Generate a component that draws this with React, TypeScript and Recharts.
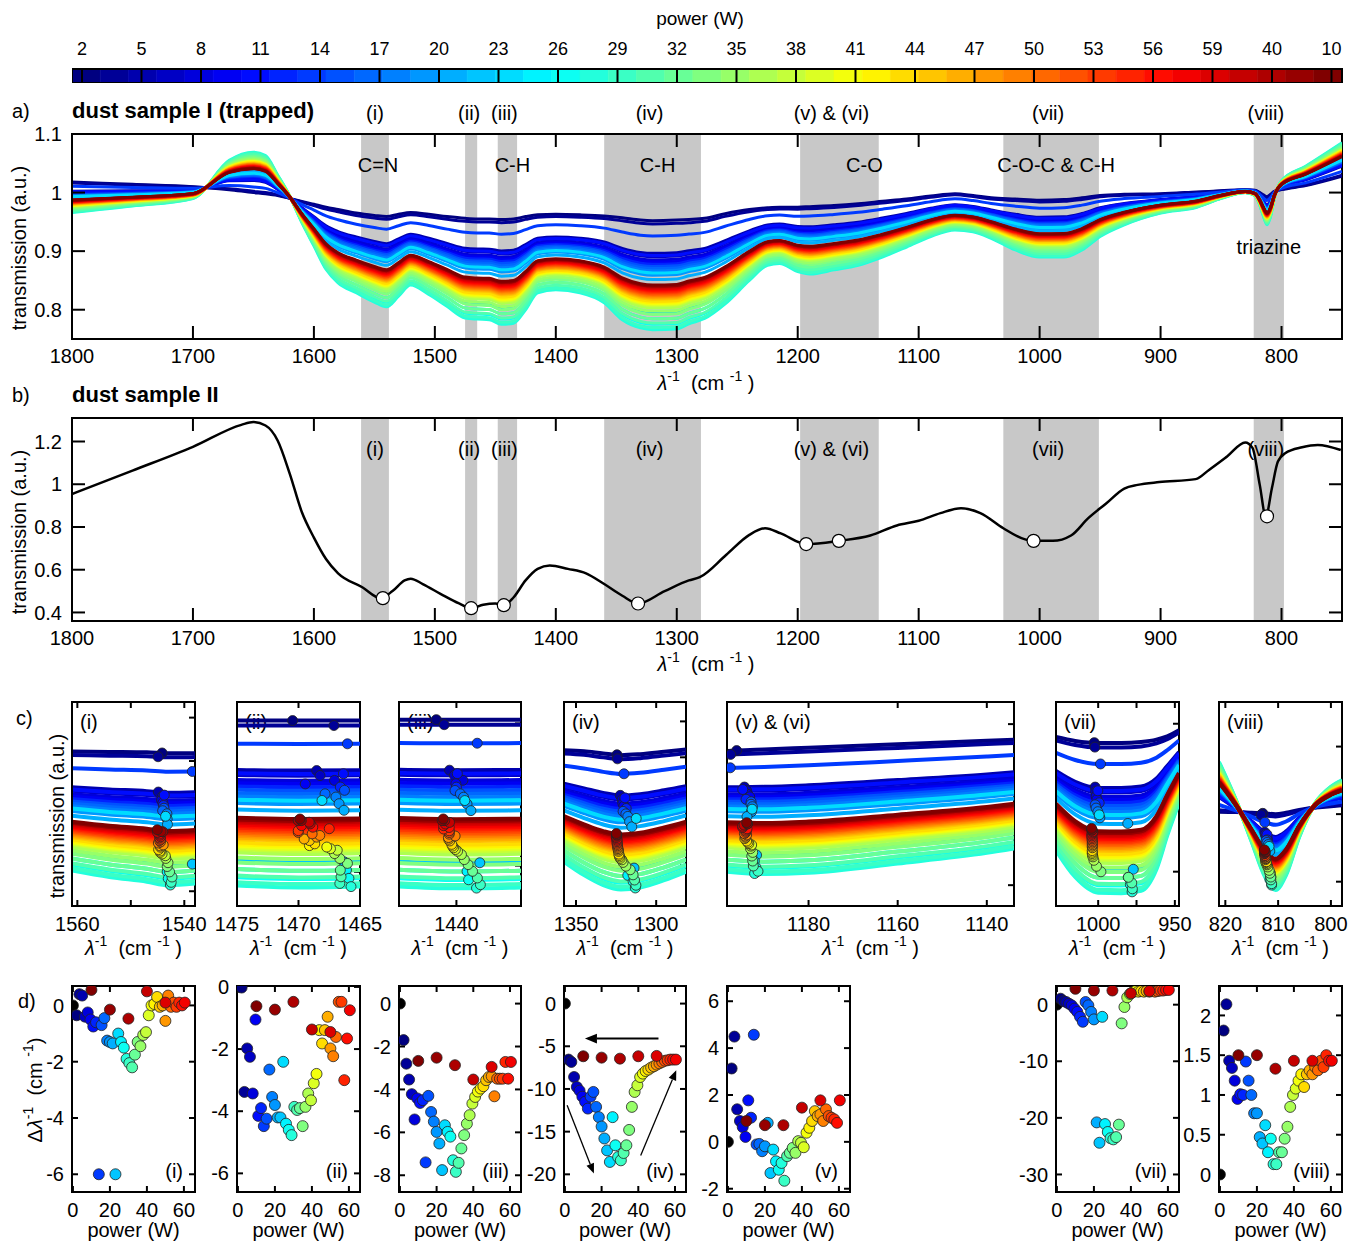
import React from 'react';
import { ComposedChart, Line, Scatter, XAxis, YAxis, ReferenceArea, ReferenceLine } from 'recharts';

const FONT = '"Liberation Sans", Arial, Helvetica, sans-serif';
const AX = { stroke: '#000', strokeWidth: 2 };

// ---------------- measurement sequence ----------------
const rampUpPower = [2, 3.5, 5, 6.5, 8, 9.5, 11, 12.5, 14, 15.5, 17, 18.5, 20, 21.5, 23, 24.5, 26, 27.5, 29, 30.5, 32, 33.5, 35, 36.5, 38, 39.5, 41, 42.5, 44, 45.5, 47, 48.5, 50, 51.5, 53, 54.5, 56, 57.5, 59, 60.5];
const rampDownPower = [50, 40, 30, 20, 10];
const measurementPower = [...rampUpPower, ...rampDownPower];
const N = measurementPower.length;

const colorbarLabels = ['2', '5', '8', '11', '14', '17', '20', '23', '26', '29', '32', '35', '38', '41', '44', '47', '50', '53', '56', '59', '40', '10'];

// depth of each spectrum between the shallowest (0) and deepest (1) trace
const spectrumDepth = [0.0, 0.03, 0.3, 0.33, 0.36, 0.38, 0.32, 0.4, 0.14, 0.42, 0.44, 0.46, 0.5, 0.54, 0.85, 0.48, 0.9, 0.95, 1.0, 0.98, 0.94, 0.9, 0.86, 0.83, 0.8, 0.78, 0.77, 0.76, 0.75, 0.74, 0.72, 0.71, 0.7, 0.69, 0.68, 0.67, 0.66, 0.65, 0.64, 0.63, 0.62, 0.61, 0.6, 0.6, 0.59];

// ---------------- panel a ----------------
const aWavenumber = [1800, 1750, 1700, 1670, 1650, 1640, 1630, 1620, 1610, 1600, 1590, 1580, 1565, 1550, 1540, 1530, 1520, 1505, 1490, 1475, 1465, 1455, 1445, 1435, 1425, 1415, 1400, 1380, 1360, 1345, 1330, 1320, 1300, 1290, 1277, 1260, 1240, 1225, 1215, 1200, 1190, 1170, 1150, 1130, 1110, 1090, 1070, 1055, 1040, 1020, 1000, 980, 965, 950, 930, 900, 870, 850, 830, 822, 818, 815, 812, 809, 806, 800, 780, 750];
const aShallowest = [1.018, 1.014, 1.01, 1.005, 1.0, 0.998, 0.995, 0.99, 0.985, 0.98, 0.975, 0.971, 0.965, 0.961, 0.959, 0.963, 0.966, 0.963, 0.959, 0.956, 0.955, 0.955, 0.954, 0.955, 0.959, 0.962, 0.963, 0.962, 0.96, 0.957, 0.953, 0.952, 0.953, 0.954, 0.956, 0.964, 0.971, 0.974, 0.975, 0.975, 0.976, 0.978, 0.981, 0.985, 0.989, 0.994, 0.998, 0.995, 0.991, 0.989, 0.987, 0.988, 0.991, 0.995, 0.997, 0.998, 1.001, 1.003, 1.005, 1.004, 1.0, 0.996, 0.993, 0.997, 1.002, 1.005, 1.012, 1.028];
const aDeepest = [0.966, 0.977, 0.99, 1.055, 1.069, 1.063, 1.03, 0.994, 0.949, 0.909, 0.869, 0.846, 0.829, 0.813, 0.805, 0.823, 0.842, 0.826, 0.806, 0.786, 0.784, 0.783, 0.775, 0.777, 0.8, 0.829, 0.834, 0.829, 0.812, 0.783, 0.769, 0.766, 0.767, 0.776, 0.785, 0.81, 0.85, 0.876, 0.879, 0.865, 0.861, 0.868, 0.876, 0.89, 0.907, 0.925, 0.936, 0.933, 0.922, 0.902, 0.89, 0.89, 0.902, 0.925, 0.945, 0.965, 0.975, 0.99, 1.0, 0.995, 0.979, 0.96, 0.945, 0.96, 0.99, 1.02, 1.045, 1.085];

const bandNames = ['(i)', '(ii)', '(iii)', '(iv)', '(v) & (vi)', '(vii)', '(viii)'];
const bandFrom = [1561, 1475, 1448, 1360, 1198, 1030, 823];
const bandTo = [1538, 1465, 1432, 1280, 1133, 951, 798];
const bandAssignment = ['C=N', '', 'C-H', 'C-H', 'C-O', 'C-O-C & C-H', 'triazine'];

// ---------------- panel b ----------------
const bWavenumber = [1800, 1750, 1700, 1660, 1650, 1640, 1630, 1620, 1610, 1600, 1590, 1580, 1560, 1545, 1535, 1525, 1520, 1510, 1495, 1480, 1470, 1460, 1450, 1443, 1435, 1425, 1415, 1405, 1390, 1375, 1360, 1345, 1332, 1310, 1290, 1281, 1259, 1240, 1227, 1214, 1193, 1166, 1140, 1118, 1100, 1082, 1065, 1049, 1030, 1015, 1005, 989, 974, 960, 945, 930, 919, 901, 871, 860, 845, 830, 824, 818, 813, 808, 803, 797, 783, 770, 751];
const bTransmission = [0.954, 1.064, 1.175, 1.278, 1.291, 1.275, 1.205, 1.05, 0.87, 0.75, 0.65, 0.583, 0.518, 0.467, 0.5, 0.55, 0.558, 0.533, 0.486, 0.442, 0.42, 0.436, 0.442, 0.434, 0.47, 0.55, 0.604, 0.62, 0.604, 0.583, 0.533, 0.478, 0.442, 0.5, 0.55, 0.565, 0.67, 0.763, 0.794, 0.77, 0.72, 0.735, 0.76, 0.807, 0.829, 0.865, 0.888, 0.865, 0.794, 0.748, 0.735, 0.735, 0.76, 0.84, 0.91, 0.98, 0.997, 1.01, 1.024, 1.067, 1.13, 1.195, 1.17, 0.997, 0.85, 0.98, 1.106, 1.145, 1.173, 1.184, 1.16];
const bMarkerWavenumber = [1543, 1470, 1443, 1332, 1193, 1166, 1005, 812];
const bMarkerTransmission = [0.467, 0.42, 0.434, 0.442, 0.72, 0.735, 0.735, 0.85];

// ---------------- panel d : peak shifts (cm-1) per measurement ----------------
const shiftI = [-0.35, 0.4, 0.35, -0.4, -0.25, -0.5, -0.75, -0.6, -6.0, -0.7, -0.45, -1.25, -1.3, -1.35, -6.0, -1.0, -1.3, -1.5, -1.9, -2.05, -2.2, -1.75, -1.3, -1.45, -1.05, -0.95, -0.35, 0.0, 0.05, 0.3, -0.05, 0.0, -0.55, 0.35, -0.05, 0.1, -0.05, 0.1, 0.0, 0.1, 0.1, 0.5, -0.47, -0.15, 0.55];
const shiftII = [-0.02, -3.38, -1.98, -2.25, -3.43, -1.05, -4.15, -3.9, -4.48, -4.24, -2.66, -3.54, -3.8, -4.2, -4.2, -2.41, -4.4, -4.6, -4.77, -3.86, -3.96, -3.9, -4.48, -3.86, -3.43, -3.65, -3.1, -2.8, -1.39, -1.82, -1.39, -0.96, -1.98, -2.23, -1.61, -0.48, -0.48, -3.0, -1.66, -0.75, -1.45, -1.37, -0.48, -0.73, -0.62];
const shiftIII = [-1.7, -2.8, -3.54, -4.22, -5.4, -4.42, -4.63, -4.5, -7.4, -4.3, -5.05, -5.5, -5.98, -6.52, -7.76, -5.67, -5.98, -6.2, -7.3, -7.84, -7.42, -6.75, -6.13, -5.6, -5.2, -4.66, -4.35, -4.1, -3.96, -3.85, -3.57, -3.42, -3.39, -4.32, -3.5, -3.5, -3.5, -2.72, -3.5, -2.72, -2.95, -3.54, -2.87, -2.52, -2.67];
const shiftIV = [-6.56, -6.84, -8.6, -9.77, -10.2, -10.9, -11.5, -12.3, -10.9, -10.35, -12.1, -13.3, -14.4, -15.8, -17.2, -18.55, -13.3, -16.6, -17.97, -18.36, -17.5, -16.6, -14.8, -12.1, -10.35, -9.57, -8.6, -8.2, -7.9, -7.73, -7.5, -7.34, -7.15, -7.0, -6.84, -6.7, -6.64, -6.56, -6.56, -6.56, -6.13, -6.17, -6.45, -6.33, -6.17];
const shiftV = [3.13, 4.49, 1.39, 0.89, 0.63, 0.21, 1.77, 1.03, 4.57, -0.11, -0.09, -0.4, -0.19, 0.81, -1.33, -0.33, -0.83, -1.19, -0.9, -1.66, -0.61, -0.47, -0.26, -0.47, 0.03, -0.04, -0.23, 0.39, 0.6, 0.89, 1.31, 1.1, 1.17, 0.89, 1.39, 1.1, 1.03, 0.96, 0.81, 1.77, 1.77, 1.46, 0.71, 0.71, 0.89];
const shiftVII = [1.05, 0.64, 0.47, 0.17, -0.12, -0.7, -1.28, -2.15, -3.02, 0.47, -0.12, -1.28, -2.6, -20.8, -24.4, -2.15, -21.1, -22.5, -23.6, -23.8, -23.4, -21.2, -3.3, -0.41, 1.3, 1.9, 2.2, 2.4, 2.3, 2.4, 2.3, 2.4, 2.3, 2.4, 2.3, 2.4, 2.5, 2.5, 2.6, 2.6, 2.4, 2.0, 2.5, 2.5, 2.8];
const shiftVIII = [1.81, 2.14, 1.43, 1.34, 1.18, 0.95, 1.01, 1.0, 1.42, 1.18, 1.0, 0.77, 0.77, 0.47, 0.39, 0.62, 0.28, 0.45, 0.13, 0.13, 0.28, 0.28, 0.45, 0.6, 0.85, 1.0, 1.08, 1.18, 1.26, 1.1, 1.26, 1.31, 1.26, 1.35, 1.31, 1.43, 1.35, 1.5, 1.43, 1.43, 1.43, 1.43, 1.33, 1.5, 1.5];

const dPowerTicks = [0, 20, 40, 60];
const arrowStartPower = [51, 1.2, 41.3];
const arrowStartShift = [-4.1, -11.9, -17.8];
const arrowEndPower = [10.9, 15.8, 60.7];
const arrowEndShift = [-4.1, -19.9, -7.8];

// ---------------- panel c : zoomed spectra ----------------
const cIWavenumber = [1561, 1554, 1547, 1543, 1538];
const cIShallow = [0.961, 0.9605, 0.96, 0.959, 0.959];
const cIDeep = [0.824, 0.8165, 0.811, 0.807, 0.809];
const cIIWavenumber = [1475, 1470, 1465];
const cIIShallow = [0.955, 0.955, 0.955];
const cIIDeep = [0.786, 0.784, 0.785];
const cIIIWavenumber = [1448, 1440, 1431];
const cIIIShallow = [0.954, 0.954, 0.954];
const cIIIDeep = [0.778, 0.776, 0.777];
const cIVWavenumber = [1357.5, 1345, 1333, 1322, 1310, 1295, 1281.4];
const cIVShallow = [0.96, 0.9586, 0.9554, 0.953, 0.9544, 0.9577, 0.9609];
const cIVDeep = [0.8046, 0.786, 0.7721, 0.766, 0.7688, 0.779, 0.7906];
const cVWavenumber = [1198.3, 1190, 1180, 1160, 1140, 1133.9];
const cVShallow = [0.975, 0.9764, 0.978, 0.9812, 0.9845, 0.9855];
const cVDeep = [0.8625, 0.8603, 0.8615, 0.8702, 0.8801, 0.8842];
const cVIIWavenumber = [1027.5, 1015, 1000, 985, 972, 962, 955, 947.3];
const cVIIShallow = [0.9911, 0.9884, 0.987, 0.987, 0.9877, 0.9893, 0.9915, 0.9956];
const cVIIDeep = [0.9145, 0.8964, 0.8858, 0.8855, 0.8871, 0.9017, 0.9243, 0.9466];
const cVIIIWavenumber = [821.2, 818, 815, 812.5, 810.5, 808.5, 806, 803, 800, 797.9];
const cVIIIShallow = [0.9914, 0.9912, 0.9908, 0.9904, 0.99, 0.9908, 0.9924, 0.9939, 0.9947, 0.9953];
const cVIIIDeep = [1.0209, 0.9983, 0.9736, 0.953, 0.9451, 0.9539, 0.9766, 0.9963, 1.0062, 1.0101];
const cPeakCentre = [1544.5, 1470.5, 1444.5, 1331, 1193, 1001.5, 811.1];

// ---------------- helpers ----------------
function jet(t: number): string {
  const c = (v: number) => Math.round(255 * Math.max(0, Math.min(1, v)));
  return `rgb(${c(1.5 - Math.abs(4 * t - 3))},${c(1.5 - Math.abs(4 * t - 2))},${c(1.5 - Math.abs(4 * t - 1))})`;
}
const seqColor = measurementPower.map((_, i) => jet(i / (N - 1)));

function spectraRows(xs: number[], top: number[], deep: number[]) {
  return xs.map((x, k) => {
    const row: any = { x };
    spectrumDepth.forEach((s, i) => { row['s' + i] = top[k] + s * (deep[k] - top[k]); });
    return row;
  });
}
function interp(xs: number[], vals: number[], x: number) {
  for (let k = 0; k < xs.length - 1; k++) {
    const a = xs[k], b = xs[k + 1];
    if ((x - a) * (x - b) <= 0) return vals[k] + ((x - a) / (b - a)) * (vals[k + 1] - vals[k]);
  }
  return vals[vals.length - 1];
}

function Frame({ box, pad, data, children }: any) {
  const [x0, y0, x1, y1] = box;
  const [pl, pt, pr, pb] = pad;
  const width = x1 - x0 + pl + pr;
  const height = y1 - y0 + pt + pb;
  return (
    <div style={{ position: 'absolute', left: x0 - pl, top: y0 - pt, width, height }}>
      <ComposedChart width={width} height={height} data={data} margin={{ top: pt, right: pr, bottom: 0, left: 0 }}>
        {children}
      </ComposedChart>
    </div>
  );
}

// mirrored tick marks drawn on the top and right edges of the frame
const topTick = (len: number) => (p: any) => {
  if (p.x1 == null) return null;
  const y = Math.min(p.y1, p.y2);
  return <line x1={p.x1} x2={p.x1} y1={y} y2={y + len} stroke="#000" strokeWidth={2} />;
};
const rightTick = (len: number) => (p: any) => {
  if (p.x1 == null) return null;
  const x = Math.max(p.x1, p.x2);
  return <line x1={x - len} x2={x} y1={p.y1} y2={p.y1} stroke="#000" strokeWidth={2} />;
};

function frameAxes(o: any) {
  const tickStyle = { fill: '#000', fontSize: o.fontSize, fontFamily: FONT };
  const items: any[] = [
    <XAxis key="xb" xAxisId="b" type="number" dataKey="x" domain={o.xDomain} ticks={o.xTicks} reversed={o.reversed} allowDataOverflow interval={0} height={o.pb} tickSize={-o.tickLen} tickMargin={o.xMargin} tick={tickStyle} tickFormatter={o.xFmt} axisLine={AX} tickLine={AX} />,
    <YAxis key="yl" yAxisId="l" type="number" dataKey="y" domain={o.yDomain} ticks={o.yTicks} allowDataOverflow interval={0} width={o.pl} tickSize={-o.tickLen} tickMargin={o.yMargin} tick={o.showYLabels ? tickStyle : false} axisLine={AX} tickLine={AX} />,
    <ReferenceArea key="border" xAxisId="b" yAxisId="l" x1={o.xDomain[0]} x2={o.xDomain[1]} y1={o.yDomain[0]} y2={o.yDomain[1]} fill="none" stroke="#000" strokeWidth={2} ifOverflow="visible" />,
  ];
  (o.xTicks || []).forEach((v: number) => items.push(
    <ReferenceLine key={'tt' + v} xAxisId="b" yAxisId="l" x={v} ifOverflow="visible" shape={topTick(o.tickLen)} />
  ));
  (o.yTicks || []).forEach((v: number) => items.push(
    <ReferenceLine key={'rt' + v} xAxisId="b" yAxisId="l" y={v} ifOverflow="visible" shape={rightTick(o.tickLen)} />
  ));
  return items;
}

function spectraLines(width: number) {
  return spectrumDepth.map((_, i) => (
    <Line key={'s' + i} xAxisId="b" yAxisId="l" type="monotone" dataKey={'s' + i} stroke={seqColor[i]} strokeWidth={width} dot={false} activeDot={false} isAnimationActive={false} />
  ));
}

const dotShape = (r: number) => (p: any) => (
  <circle cx={p.cx} cy={p.cy} r={r} fill={p.payload.c} stroke="#222" strokeWidth={0.8} />
);

const cornerLabel = (text: string, corner: string) => (props: any) => {
  const vb = props.viewBox;
  if (!vb) return null;
  const tl = corner === 'tl';
  return (
    <text x={tl ? vb.x + 8 : vb.x + vb.width - 12} y={tl ? vb.y + 27 : vb.y + vb.height - 14} textAnchor={tl ? 'start' : 'end'} fontSize={20} fontFamily={FONT} fill="#000" style={{ whiteSpace: 'pre' }}>{text}</text>
  );
};

const arrowShape = (w: number, head: number) => (p: any) => {
  const { x1, y1, x2, y2 } = p;
  if (x1 == null) return null;
  const ang = Math.atan2(y2 - y1, x2 - x1);
  const bx = x2 - head * Math.cos(ang), by = y2 - head * Math.sin(ang);
  const px = -Math.sin(ang) * head * 0.4, py = Math.cos(ang) * head * 0.4;
  return (
    <g>
      <line x1={x1} y1={y1} x2={bx} y2={by} stroke="#000" strokeWidth={w} />
      <polygon points={`${x2},${y2} ${bx + px},${by + py} ${bx - px},${by - py}`} fill="#000" />
    </g>
  );
};

// ---------------- colorbar ----------------
function Colorbar() {
  const dummy = [{ x: 0, y: 0 }, { x: N, y: 0 }];
  // label k sits 10 px + 59.5 px * k from the left end of the 1270 px bar
  const labelPos = colorbarLabels.map((_, k) => ((10 + 59.5 * k) * N) / 1270);
  const halfTick = (1 * N) / 1270;
  return (
    <Frame box={[72, 68, 1342, 83]} pad={[0, 67, 19, 0]} data={dummy}>
      <XAxis xAxisId="b" type="number" dataKey="x" orientation="top" domain={[0, N]} height={1} allowDataOverflow ticks={labelPos} interval={0} tickFormatter={(v: number) => colorbarLabels[labelPos.indexOf(v)]} tickSize={0} tickMargin={14} axisLine={false} tickLine={false} tick={{ fill: '#000', fontSize: 18, fontFamily: FONT }} />
      <YAxis yAxisId="l" type="number" dataKey="y" domain={[0, 1]} hide width={0} allowDataOverflow />
      <Line xAxisId="b" yAxisId="l" dataKey="y" stroke="none" dot={false} activeDot={false} isAnimationActive={false} />
      {measurementPower.map((_, i) => (
        <ReferenceArea key={'c' + i} xAxisId="b" yAxisId="l" x1={i} x2={i + 1} y1={0} y2={1} fill={seqColor[i]} fillOpacity={1} stroke={seqColor[i]} strokeWidth={0.6} ifOverflow="visible" />
      ))}
      {labelPos.map((u, k) => (
        <ReferenceArea key={'t' + k} xAxisId="b" yAxisId="l" x1={u - halfTick} x2={u + halfTick} y1={0} y2={1} fill="#000" fillOpacity={1} stroke="none" ifOverflow="visible" />
      ))}
      <ReferenceArea xAxisId="b" yAxisId="l" x1={0} x2={N} y1={0} y2={1} fill="none" stroke="#000" strokeWidth={2} ifOverflow="visible" />
    </Frame>
  );
}

// ---------------- panel a ----------------
const assignmentDx = [3, 0, 5, 5, 25, 5, 0];
const assignmentDy = [31, 31, 31, 31, 31, 31, 113];
const bandNameDx = [0, -2, -3, -3, -8, -3, -3];

function PanelA() {
  const rows = spectraRows(aWavenumber, aShallowest, aDeepest);
  return (
    <Frame box={[72, 134, 1342, 339]} pad={[72, 45, 19, 30]} data={rows}>
      {bandFrom.map((f, k) => (
        <ReferenceArea key={'band' + k} xAxisId="b" yAxisId="l" x1={f} x2={bandTo[k]} fill="#c8c8c8" fillOpacity={1} stroke="none" ifOverflow="visible"
          label={(props: any) => {
            const vb = props.viewBox;
            if (!vb) return null;
            const cx = vb.x + vb.width / 2;
            return (
              <g>
                <text x={cx + bandNameDx[k]} y={vb.y - 21} textAnchor="middle" dominantBaseline="central" fontSize={20} fontFamily={FONT} fill="#000" style={{ whiteSpace: 'pre' }}>{bandNames[k]}</text>
                <text x={cx + assignmentDx[k]} y={vb.y + assignmentDy[k]} textAnchor="middle" dominantBaseline="central" fontSize={20} fontFamily={FONT} fill="#000" style={{ whiteSpace: 'pre' }}>{bandAssignment[k]}</text>
              </g>
            );
          }} />
      ))}
      {frameAxes({ pl: 72, pb: 30, xDomain: [750, 1800], yDomain: [0.75, 1.1], xTicks: [1800, 1700, 1600, 1500, 1400, 1300, 1200, 1100, 1000, 900, 800], yTicks: [0.8, 0.9, 1, 1.1], reversed: true, tickLen: 13, xMargin: 23, yMargin: 23, fontSize: 20, showYLabels: true })}
      {spectraLines(3)}
    </Frame>
  );
}

// ---------------- panel b ----------------
function PanelB() {
  const rows = bWavenumber.map((x, k) => ({ x, y: bTransmission[k] }));
  const markers = bMarkerWavenumber.map((x, k) => ({ x, y: bMarkerTransmission[k], c: '#fff' }));
  return (
    <Frame box={[72, 418, 1342, 621]} pad={[72, 10, 19, 30]} data={rows}>
      {bandFrom.map((f, k) => (
        <ReferenceArea key={'band' + k} xAxisId="b" yAxisId="l" x1={f} x2={bandTo[k]} fill="#c8c8c8" fillOpacity={1} stroke="none" ifOverflow="visible"
          label={(props: any) => {
            const vb = props.viewBox;
            if (!vb) return null;
            return (
              <text x={vb.x + vb.width / 2 + bandNameDx[k]} y={vb.y + 31} textAnchor="middle" dominantBaseline="central" fontSize={20} fontFamily={FONT} fill="#000" style={{ whiteSpace: 'pre' }}>{bandNames[k]}</text>
            );
          }} />
      ))}
      {frameAxes({ pl: 72, pb: 30, xDomain: [750, 1800], yDomain: [0.36, 1.31], xTicks: [1800, 1700, 1600, 1500, 1400, 1300, 1200, 1100, 1000, 900, 800], yTicks: [0.4, 0.6, 0.8, 1, 1.2], reversed: true, tickLen: 13, xMargin: 23, yMargin: 23, fontSize: 20, showYLabels: true })}
      <Line xAxisId="b" yAxisId="l" type="monotone" dataKey="y" stroke="#000" strokeWidth={2.5} dot={false} activeDot={false} isAnimationActive={false} />
      <Scatter xAxisId="b" yAxisId="l" data={markers} dataKey="y" shape={(p: any) => <circle cx={p.cx} cy={p.cy} r={6.5} fill="#fff" stroke="#000" strokeWidth={1.2} />} isAnimationActive={false} />
    </Frame>
  );
}

// ---------------- panel c ----------------
const cPanels = [
  { name: '(i)', box: [72, 702, 195, 906], xs: cIWavenumber, top: cIShallow, deep: cIDeep, yDomain: [0.783, 1.018], yTicks: [0.8, 0.85, 0.9, 0.95, 1.0], ticks: [1560, 1550, 1540], shown: [1560, 1540], ref: cPeakCentre[0], shifts: shiftI },
  { name: '(ii)', box: [237, 702, 360, 906], xs: cIIWavenumber, top: cIIShallow, deep: cIIDeep, yDomain: [0.765, 0.974], yTicks: [0.8, 0.85, 0.9, 0.95], ticks: [1475, 1470, 1465], shown: [1475, 1470, 1465], ref: cPeakCentre[1], shifts: shiftII },
  { name: '(iii)', box: [399, 702, 521, 906], xs: cIIIWavenumber, top: cIIIShallow, deep: cIIIDeep, yDomain: [0.7574, 0.9726], yTicks: [0.8, 0.85, 0.9, 0.95], ticks: [1440], shown: [1440], ref: cPeakCentre[2], shifts: shiftIII },
  { name: '(iv)', box: [564, 702, 686, 906], xs: cIVWavenumber, top: cIVShallow, deep: cIVDeep, yDomain: [0.743, 1.027], yTicks: [0.8, 0.85, 0.9, 0.95, 1.0], ticks: [1350, 1325, 1300], shown: [1350, 1300], ref: cPeakCentre[3], shifts: shiftIV },
  { name: '(v) & (vi)', box: [727, 702, 1014, 906], xs: cVWavenumber, top: cVShallow, deep: cVDeep, yDomain: [0.8306, 1.0206], yTicks: [0.85, 0.9, 0.95, 1.0], ticks: [1180, 1160, 1140], shown: [1180, 1160, 1140], ref: cPeakCentre[4], shifts: shiftV },
  { name: '(vii)', box: [1056, 702, 1179, 906], xs: cVIIWavenumber, top: cVIIShallow, deep: cVIIDeep, yDomain: [0.8768, 1.0147], yTicks: [0.9, 0.95, 1.0], ticks: [1000, 975, 950], shown: [1000, 950], ref: cPeakCentre[5], shifts: shiftVII },
  { name: '(viii)', box: [1219, 702, 1342, 906], xs: cVIIIWavenumber, top: cVIIIShallow, deep: cVIIIDeep, yDomain: [0.9356, 1.0564], yTicks: [0.95, 0.99, 1.03], ticks: [820, 810, 800], shown: [820, 810, 800], ref: cPeakCentre[6], shifts: shiftVIII },
];

function PanelC({ p }: any) {
  const rows = spectraRows(p.xs, p.top, p.deep);
  const xDomain = [p.xs[p.xs.length - 1], p.xs[0]];
  const dots = p.shifts.map((sh: number, i: number) => {
    const x = p.ref + sh;
    const t = interp(p.xs, p.top, x), d = interp(p.xs, p.deep, x);
    return { x, y: t + spectrumDepth[i] * (d - t), c: seqColor[i] };
  });
  return (
    <Frame box={p.box} pad={[30, 10, 28, 30]} data={rows}>
      {frameAxes({ pl: 30, pb: 30, xDomain, yDomain: p.yDomain, xTicks: p.ticks, yTicks: p.yTicks, xFmt: (v: number) => (p.shown.includes(v) ? String(v) : ''), reversed: true, tickLen: 6, xMargin: 17, yMargin: 10, fontSize: 20, showYLabels: false })}
      {spectraLines(4)}
      <Scatter xAxisId="b" yAxisId="l" data={dots} dataKey="y" shape={dotShape(5)} isAnimationActive={false} />
      <ReferenceArea xAxisId="b" yAxisId="l" x1={xDomain[0]} x2={xDomain[1]} fill="none" stroke="none" ifOverflow="visible" label={cornerLabel(p.name, 'tl')} />
    </Frame>
  );
}

// ---------------- panel d ----------------
const dPanels = [
  { name: '(i)', box: [72, 986, 195, 1192], yDomain: [-6.63, 0.69], yTicks: [-6, -4, -2, 0], shifts: shiftI },
  { name: '(ii)', box: [237, 986, 360, 1192], yDomain: [-6.6, 0.03], yTicks: [-6, -4, -2, 0], shifts: shiftII },
  { name: '(iii)', box: [399, 986, 521, 1192], yDomain: [-8.78, 0.82], yTicks: [-8, -6, -4, -2, 0], shifts: shiftIII },
  { name: '(iv)', box: [564, 986, 686, 1192], yDomain: [-22.07, 2.06], yTicks: [-20, -15, -10, -5, 0], shifts: shiftIV, arrows: true },
  { name: '(v)', box: [727, 986, 850, 1192], yDomain: [-2.14, 6.65], yTicks: [-2, 0, 2, 4, 6], shifts: shiftV },
  { name: '(vii)', box: [1056, 986, 1179, 1192], yDomain: [-33.1, 3.3], yTicks: [-30, -20, -10, 0], shifts: shiftVII },
  { name: '(viii)', box: [1219, 986, 1342, 1192], yDomain: [-0.22, 2.37], yTicks: [0, 0.5, 1, 1.5, 2], shifts: shiftVIII },
];
const dPowerDomain = [-0.5, 66];

function PanelD({ p }: any) {
  const pts = [{ x: 0, y: 0, c: '#000' }, ...p.shifts.map((s: number, i: number) => ({ x: measurementPower[i], y: s, c: seqColor[i] }))];
  return (
    <Frame box={p.box} pad={[50, 10, 10, 30]}>
      {frameAxes({ pl: 50, pb: 30, xDomain: dPowerDomain, yDomain: p.yDomain, xTicks: dPowerTicks, yTicks: p.yTicks, tickLen: 6, xMargin: 17, yMargin: 14, fontSize: 20, showYLabels: true })}
      <ReferenceArea xAxisId="b" yAxisId="l" x1={dPowerDomain[0]} x2={dPowerDomain[1]} fill="none" stroke="none" ifOverflow="visible" label={cornerLabel(p.name, 'br')} />
      <Scatter xAxisId="b" yAxisId="l" data={pts} dataKey="y" shape={dotShape(5.5)} isAnimationActive={false} />
      {p.arrows && arrowStartPower.map((x0, k) => (
        <ReferenceLine key={'ar' + k} xAxisId="b" yAxisId="l" segment={[{ x: x0, y: arrowStartShift[k] }, { x: arrowEndPower[k], y: arrowEndShift[k] }]} ifOverflow="visible" shape={k === 0 ? arrowShape(2, 12) : arrowShape(1.3, 10)} />
      ))}
    </Frame>
  );
}

// ---------------- text overlay ----------------
function LambdaTitle({ x, y }: any) {
  return (
    <text x={x} y={y} textAnchor="middle" fontSize={20} fontFamily={FONT} fill="#000" style={{ whiteSpace: 'pre' }}>
      <tspan fontStyle="italic">λ</tspan>
      <tspan dy={-9} fontSize={14}>-1</tspan>
      <tspan dy={9}>{'  (cm '}</tspan>
      <tspan dy={-9} fontSize={14}>-1</tspan>
      <tspan dy={9}>{' )'}</tspan>
    </text>
  );
}

function Overlay() {
  const txt = { fontFamily: FONT, fill: '#000', fontSize: 20 } as any;
  return (
    <svg width={1361} height={1249} style={{ position: 'absolute', left: 0, top: 0, pointerEvents: 'none' }}>
      <text x={700} y={25} textAnchor="middle" {...txt} fontSize={19}>power (W)</text>
      <text x={12} y={118} {...txt}>a)</text>
      <text x={72} y={118} {...txt} fontSize={22} fontWeight="bold">dust sample I (trapped)</text>
      <text x={12} y={402} {...txt}>b)</text>
      <text x={72} y={402} {...txt} fontSize={22} fontWeight="bold">dust sample II</text>
      <text x={16} y={725} {...txt}>c)</text>
      <text x={18} y={1008} {...txt}>d)</text>
      <text transform="translate(26,248) rotate(-90)" textAnchor="middle" {...txt}>transmission (a.u.)</text>
      <text transform="translate(26,532) rotate(-90)" textAnchor="middle" {...txt}>transmission (a.u.)</text>
      <text transform="translate(64,816) rotate(-90)" textAnchor="middle" {...txt}>transmission (a.u.)</text>
      <text transform="translate(42,1090) rotate(-90)" textAnchor="middle" {...txt} style={{ whiteSpace: 'pre' }}>
        Δ<tspan fontStyle="italic">λ</tspan>
        <tspan dy={-9} fontSize={14}>-1</tspan>
        <tspan dy={9}>{'  (cm '}</tspan>
        <tspan dy={-9} fontSize={14}>-1</tspan>
        <tspan dy={9}>{')'}</tspan>
      </text>
      <LambdaTitle x={706} y={390} />
      <LambdaTitle x={706} y={671} />
      {cPanels.map((p, k) => <LambdaTitle key={'cl' + k} x={(p.box[0] + p.box[2]) / 2} y={955} />)}
      {dPanels.map((p, k) => (
        <text key={'dl' + k} x={(p.box[0] + p.box[2]) / 2} y={1237} textAnchor="middle" {...txt}>power (W)</text>
      ))}
    </svg>
  );
}

export default function App() {
  return (
    <div style={{ position: 'absolute', left: 0, top: 0, width: 1361, height: 1249, background: '#fff', fontFamily: FONT, overflow: 'hidden' }}>
      <Colorbar />
      <PanelA />
      <PanelB />
      {cPanels.map((p, k) => <PanelC key={'c' + k} p={p} />)}
      {dPanels.map((p, k) => <PanelD key={'d' + k} p={p} />)}
      <Overlay />
    </div>
  );
}
